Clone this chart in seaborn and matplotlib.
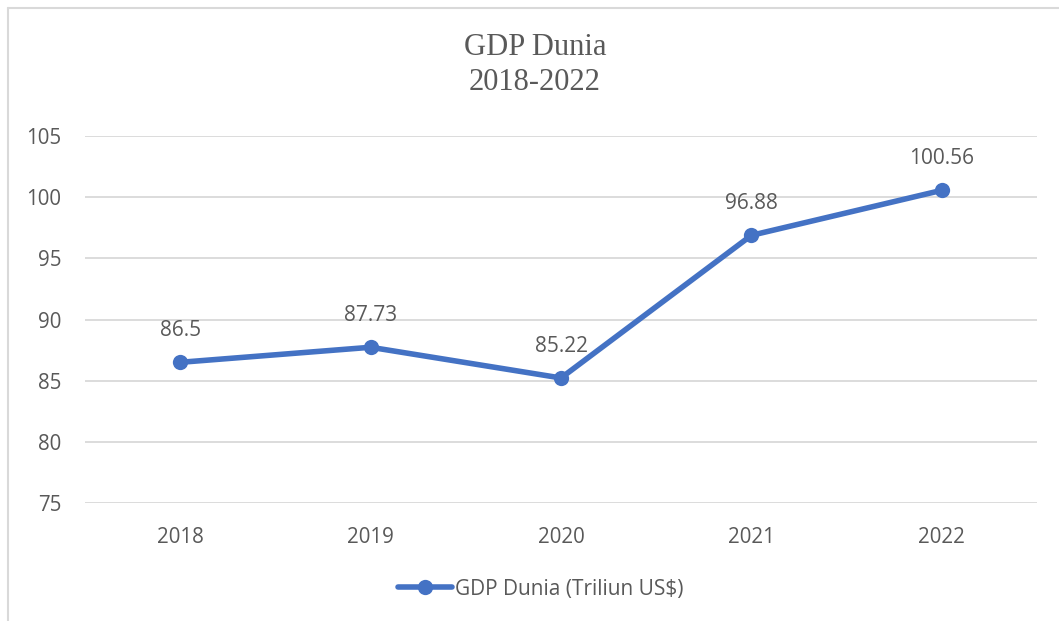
import matplotlib
matplotlib.use("Agg")
import matplotlib.pyplot as plt
import seaborn as sns
import pandas as pd
from matplotlib.lines import Line2D

years = ["2018", "2019", "2020", "2021", "2022"]
gdp = [86.5, 87.73, 85.22, 96.88, 100.56]
labels = ["86.5", "87.73", "85.22", "96.88", "100.56"]
yticks = [75, 80, 85, 90, 95, 100, 105]
title = "GDP Dunia\n2018-2022"
series_name = "GDP Dunia (Triliun US$)"

sns.set_theme(style="white")
plt.rcParams['font.family'] = ['Open Sans', 'DejaVu Sans']

W, H = 1059, 621
fig = plt.figure(figsize=(W / 100, H / 100), dpi=100)
ax = fig.add_axes([85 / W, (H - 503) / H, (1037 - 85) / W, (503 - 136) / H])

df = pd.DataFrame({"year": years, "gdp": gdp, "x": range(len(years))})
color = "#4472C4"
text_color = "#595959"
sns.lineplot(data=df, x="x", y="gdp", ax=ax, color=color, linewidth=4,
             marker="o", markersize=11, markeredgecolor=color, markeredgewidth=0)

for i, (v, lab) in enumerate(zip(gdp, labels)):
    ax.annotate(lab, (i, v), xytext=(0, 23), textcoords="offset points",
                ha="center", va="center", fontsize=15, color=text_color)

ax.set_xlim(-0.5, len(years) - 0.5)
ax.set_ylim(75, 105)
ax.set_xticks(range(len(years)))
ax.set_xticklabels(years)
ax.set_yticks(yticks)
ax.set_yticklabels([str(t) for t in yticks])
ax.tick_params(axis="both", length=0, labelsize=14.8, labelcolor=text_color)
ax.tick_params(axis="y", pad=17)
ax.tick_params(axis="x", pad=17)
ax.yaxis.grid(True, color="#d9d9d9", linewidth=1.3)
ax.xaxis.grid(False)
for s in ax.spines.values():
    s.set_visible(False)
ax.set_xlabel("")
ax.set_ylabel("")

# title
fig.text(535 / W, 1 - 65 / H, title, ha="center", va="center",
         fontsize=22, color=text_color, family=["Liberation Serif"],
         linespacing=1.28)

# chart border
fig.add_artist(Line2D([8 / W, 1.0], [1 - 8 / H, 1 - 8 / H], transform=fig.transFigure,
                      color="#d9d9d9", linewidth=1.5))
fig.add_artist(Line2D([8 / W, 8 / W], [1 - 8 / H, 0], transform=fig.transFigure,
                      color="#d9d9d9", linewidth=1.5))

handle = Line2D([], [], color=color, linewidth=4, marker="o", markersize=11,
                markeredgewidth=0)
fig.legend([handle], [series_name], loc="center", bbox_to_anchor=(541 / W, 1 - 589 / H),
           frameon=False, fontsize=15, labelcolor=text_color, handlelength=2.6,
           handletextpad=0.15)

fig.savefig("out.png", dpi=100)
